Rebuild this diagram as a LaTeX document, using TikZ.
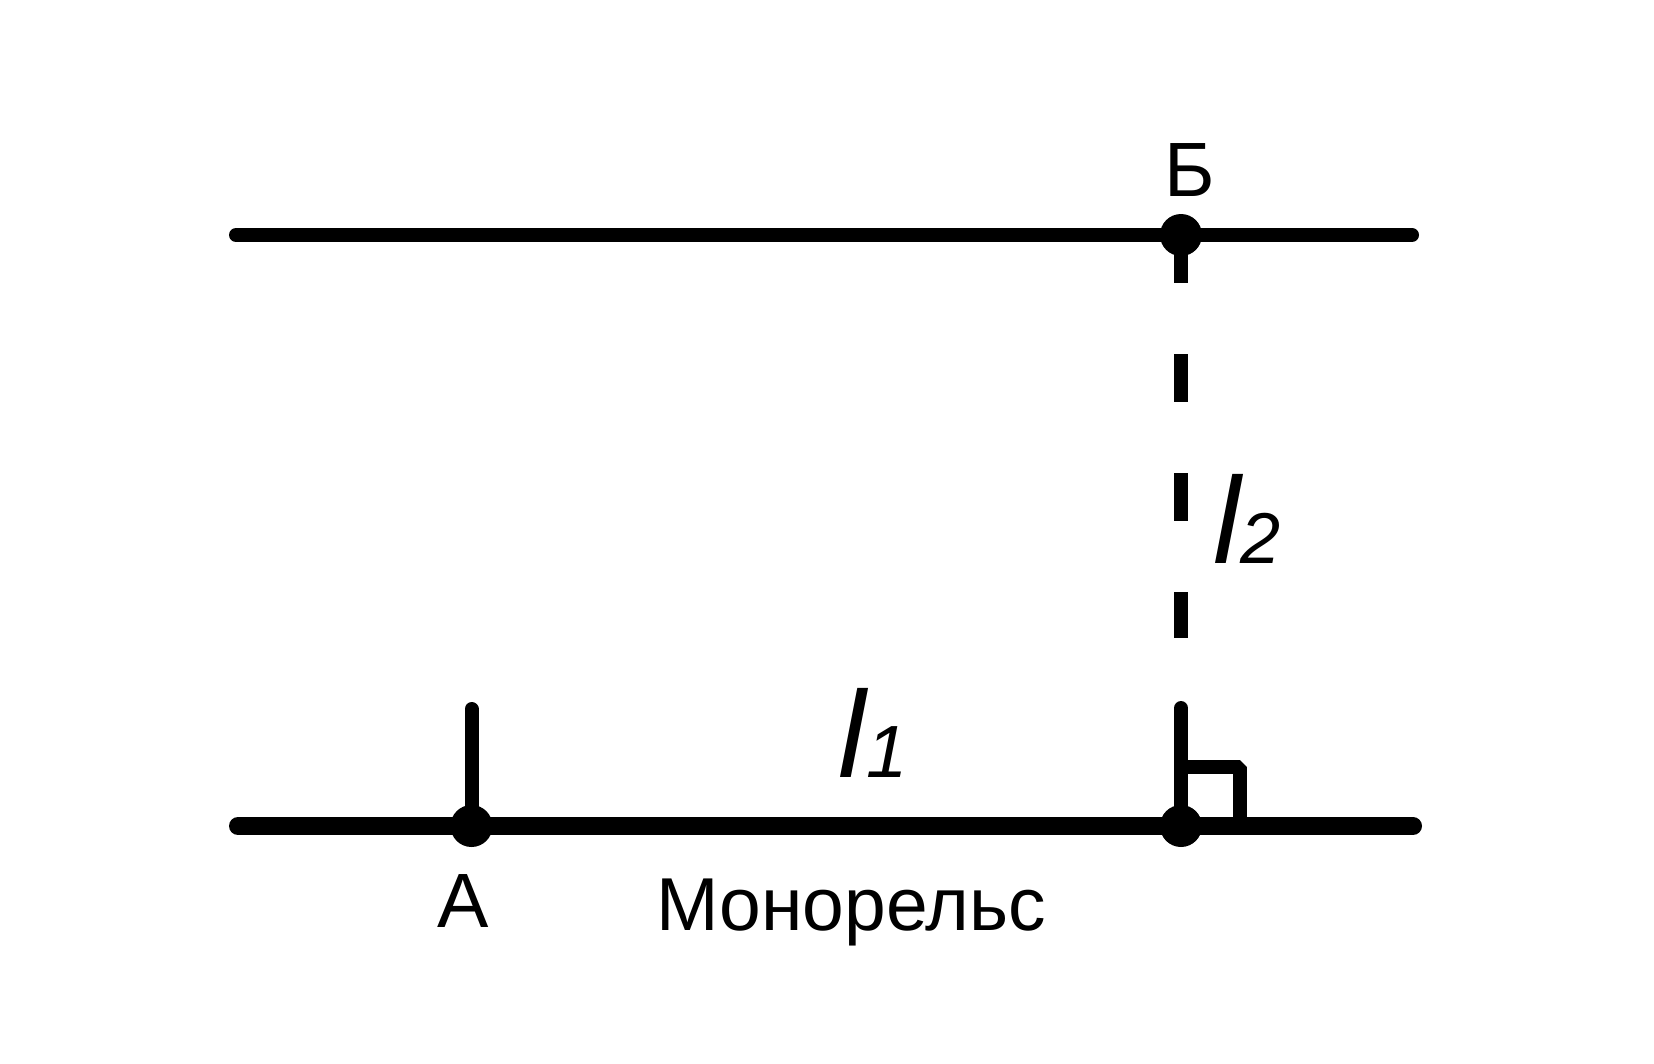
\documentclass[tikz,border=0pt]{standalone}
\usepackage{fontspec}
\setmainfont{Liberation Sans}
\begin{document}
\begin{tikzpicture}[x=1pt,y=-1pt,
  dot/.style={circle,fill=black,inner sep=0pt,minimum size=42pt},
  rail/.style={line width=#1,line cap=round},
  lbl/.style={inner sep=0pt,anchor=base,font=\fontsize{77}{80}\selectfont}]
\useasboundingbox (0,0) rectangle (1654,1063);
% coordinates
\coordinate (TL) at (236,235);
\coordinate (TR) at (1412,235);
\coordinate (BL) at (238,826);
\coordinate (BR) at (1413,826);
\coordinate (Atop) at (471.5,709);
\coordinate (Btop) at (1181,708);
\coordinate (Dend) at (1181,638);
\coordinate (Ra) at (1181,767);
\coordinate (Rb) at (1240,767);
\coordinate (Rc) at (1240,826);
% lines
\draw[rail=14pt] (TL) -- (TR);
\draw[rail=18pt] (BL) -- (BR);
\node[dot] (B) at (1181,235) {};
\node[dot] (A) at (471.5,826) {};
\node[dot] (C) at (1181,826) {};
\draw[line width=14pt,dash pattern=on 48pt off 71pt] (B.center) -- (Dend);
\draw[rail=14pt] (Atop) -- (A.center);
\draw[rail=14pt] (Btop) -- (C.center);
\draw[line width=14pt,line join=bevel] (Ra) -- (Rb) -- (Rc);
% labels
\node[lbl] (lB) at (1190,196) {Б};
\node[lbl] (lA) at (463,927) {А};
\node[lbl,font=\fontsize{75}{78}\selectfont] (lM) at (851,930) {Монорельс};
\node[inner sep=0pt,anchor=base] (l1) at (873,777) {\itshape\fontsize{123}{125}\selectfont l\fontsize{74}{76}\selectfont 1};
\node[inner sep=0pt,anchor=base] (l2) at (1247,563) {\itshape\fontsize{123}{125}\selectfont l\fontsize{72}{74}\selectfont 2};
\end{tikzpicture}
\end{document}
